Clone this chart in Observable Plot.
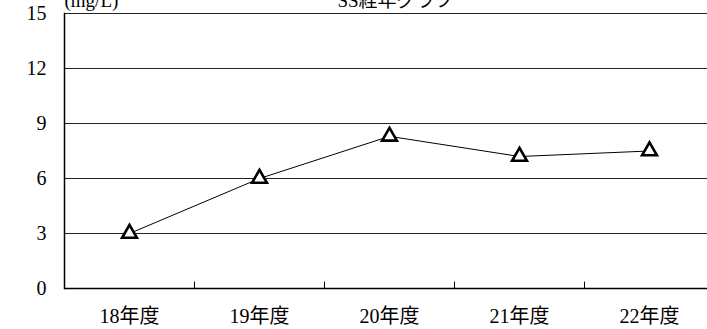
<!DOCTYPE html>
<html>
<head>
<meta charset="utf-8">
<script src="https://cdn.jsdelivr.net/npm/d3@7"></script>
<script src="https://cdn.jsdelivr.net/npm/@observablehq/plot@0.6"></script>
<style>
  html, body { margin: 0; padding: 0; background: #fff; overflow: hidden; }
  #chart { position: relative; width: 707px; height: 329px; }
  svg { font-family: "Liberation Serif", "Noto Sans CJK JP", serif; }
</style>
</head>
<body>
<div id="chart"></div>
<script>
const categories = ["18年度", "19年度", "20年度", "21年度", "22年度"];
const values = [3.0, 6.0, 8.3, 7.2, 7.5];
const yTicks = [0, 3, 6, 9, 12, 15];
const gridValues = [3, 6, 9, 12, 15];
const unitLabel = "(mg/L)";
const titleLabel = "SS経年グラフ";

const data = categories.map((c, i) => ({year: c, value: values[i]}));

const W = 707, H = 329;
const mLeft = 64, mTop = 13, yBottom = 288;
const band = 130;

const chart = Plot.plot({
  width: W,
  height: H,
  marginLeft: mLeft,
  marginRight: 0,
  marginTop: mTop,
  marginBottom: H - yBottom,
  style: {fontSize: "20px", background: "white", overflow: "visible"},
  x: {type: "band", domain: categories, range: [mLeft, mLeft + band * categories.length], padding: 0},
  y: {domain: [0, 15], range: [yBottom, mTop]},
  marks: [
    Plot.ruleY(gridValues, {stroke: "#222", strokeWidth: 1}),
    Plot.ruleX(categories.slice(1), {x: d => d, y1: 0, y2: 0.35, dx: -band / 2, stroke: "#000", strokeWidth: 1}),
    Plot.axisX({tickSize: 0, tickPadding: 20, fontSize: 20, label: null}),
    Plot.axisY({ticks: yTicks, tickSize: 0, tickPadding: 18, fontSize: 20, label: null}),
    Plot.ruleY([0], {stroke: "#000", strokeWidth: 1.5}),
    Plot.frame({anchor: "left", stroke: "#000", strokeWidth: 1.5}),
    Plot.line(data, {x: "year", y: "value", stroke: "#000", strokeWidth: 1}),
    Plot.dot(data, {x: "year", y: "value", symbol: "triangle", r: 5.5, stroke: "#000", strokeWidth: 2.6, fill: "white"}),
    Plot.text([unitLabel], {frameAnchor: "top-left", text: d => d, dx: 0, dy: -20, textAnchor: "start", fontSize: 19}),
    Plot.text([titleLabel], {frameAnchor: "top-left", text: d => d, dx: 331, dy: -20, textAnchor: "middle", fontSize: 19})
  ]
});
document.getElementById("chart").appendChild(chart);
</script>
</body>
</html>
